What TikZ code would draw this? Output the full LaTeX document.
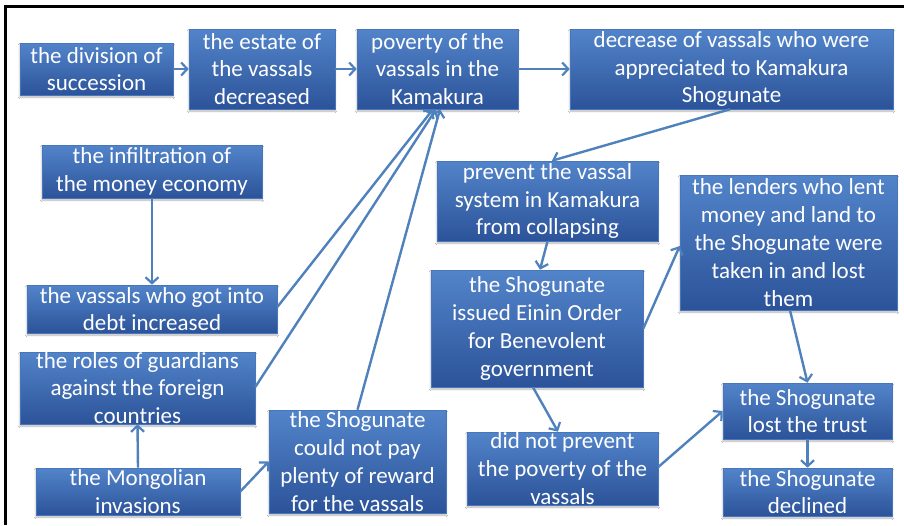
\documentclass[tikz,border=0pt]{standalone}
\usepackage{fontspec}
\setmainfont{Carlito}
\usetikzlibrary{arrows.meta,calc,shadows.blur}

\definecolor{boxtop}{RGB}{82,132,202}
\definecolor{boxbottom}{RGB}{44,83,153}
\definecolor{boxedge}{RGB}{72,118,188}
\definecolor{linkblue}{RGB}{79,129,189}

\tikzset{
  cbox/.style={rectangle, inner sep=0pt, top color=boxtop, bottom color=boxbottom,
    draw=boxedge, line width=0.6pt,
    blur shadow={shadow xshift=0pt, shadow yshift=-2pt, shadow blur steps=4, shadow opacity=30}},
  ctext/.style={text=white, align=center, inner sep=0pt,
    font=\fontsize{23}{27.8}\selectfont},
  link/.style={draw=linkblue, line width=2.4pt,
    -{Straight Barb[length=6pt, width=13pt, line width=2.2pt]}},
  frame/.style={draw=black, line width=2.6pt}
}

% box of given width and height, centred at the given point, text set over it
\newcommand{\cbox}[6]{%
  \node[cbox, minimum width=#4pt, minimum height=#5pt,
        label={[ctext]center:{#6}}] (#1) at (#2,#3) {};}

\begin{document}
\begin{tikzpicture}[x=1pt, y=-1pt]
  \useasboundingbox (0,0) rectangle (904,525);
  \fill[white] (0,0) rectangle (904,525);

  % frame along the top and left
  \draw[frame] (904,6.5) -- (5.5,6.5) -- (5.5,525);

  % top row
  \cbox{div}{96.5}{69}{153}{52}{the division of\\succession}
  \cbox{estate}{262}{69}{146}{80}{the estate of\\the vassals\\decreased}
  \cbox{poverty}{437.5}{69}{161}{80}{poverty of the\\vassals in the\\Kamakura}
  \cbox{decrease}{731.5}{69}{323}{80}{decrease of vassals who were\\appreciated to Kamakura\\Shogunate}

  % left column
  \cbox{money}{152}{171.5}{220}{53}{the infiltration of\\the money economy}
  \cbox{debt}{152}{309}{250}{48}{the vassals who got into\\debt increased}
  \cbox{guard}{137.5}{388}{235}{72}{the roles of guardians\\against the foreign\\countries}
  \cbox{mongol}{138}{491.5}{204}{47}{the Mongolian\\invasions}
  \cbox{reward}{357.5}{461.5}{177}{103}{the Shogunate\\could not pay\\plenty of reward\\for the vassals}

  % right part
  \cbox{prevent}{547.5}{201}{221}{80}{prevent the vassal\\system in Kamakura\\from collapsing}
  \cbox{lenders}{788.5}{242.5}{217}{135}{the lenders who lent\\money and land to\\the Shogunate were\\taken in and lost\\them}
  \cbox{einin}{537}{328.5}{212}{117}{the Shogunate\\issued Einin Order\\for Benevolent\\government}
  \cbox{didnot}{562.5}{468.5}{191}{73}{did not prevent\\the poverty of the\\vassals}
  \cbox{trust}{807.5}{411}{169}{56}{the Shogunate\\lost the trust}
  \cbox{declined}{807.5}{492}{169}{48}{the Shogunate\\declined}

  % connectors
  \draw[link] (div.east) -- (estate.west);
  \draw[link] (estate.east) -- (poverty.west);
  \draw[link] (poverty.east) -- (decrease.west);
  \draw[link] ($(decrease.south)+(-1.5,0)$) -- ($(prevent.north)+(4.5,0)$);
  \draw[link] (money.south) -- (debt.north);
  \draw[link] ($(debt.east)+(0,-2)$) -- ($(poverty.south)+(-4.5,0)$);
  \draw[link] ($(guard.east)+(0,-1)$) -- ($(poverty.south)+(-1.5,0)$);
  \draw[link] (reward.north) -- ($(poverty.south)+(2.5,0)$);
  \draw[link] (mongol.north) -- (guard.south);
  \draw[link] (mongol.east) -- (reward.west);
  \draw[link] (prevent.south) -- ($(einin.north)+(3,0)$);
  \draw[link] (einin.east) -- ($(lenders.west)+(0,3.5)$);
  \draw[link] ($(einin.south)+(-4,0)$) -- ($(didnot.north)+(-4.5,0)$);
  \draw[link] ($(didnot.east)+(0,-1.5)$) -- (trust.west);
  \draw[link] ($(lenders.south)+(1.5,0)$) -- (trust.north);
  \draw[link] (trust.south) -- (declined.north);
\end{tikzpicture}
\end{document}
